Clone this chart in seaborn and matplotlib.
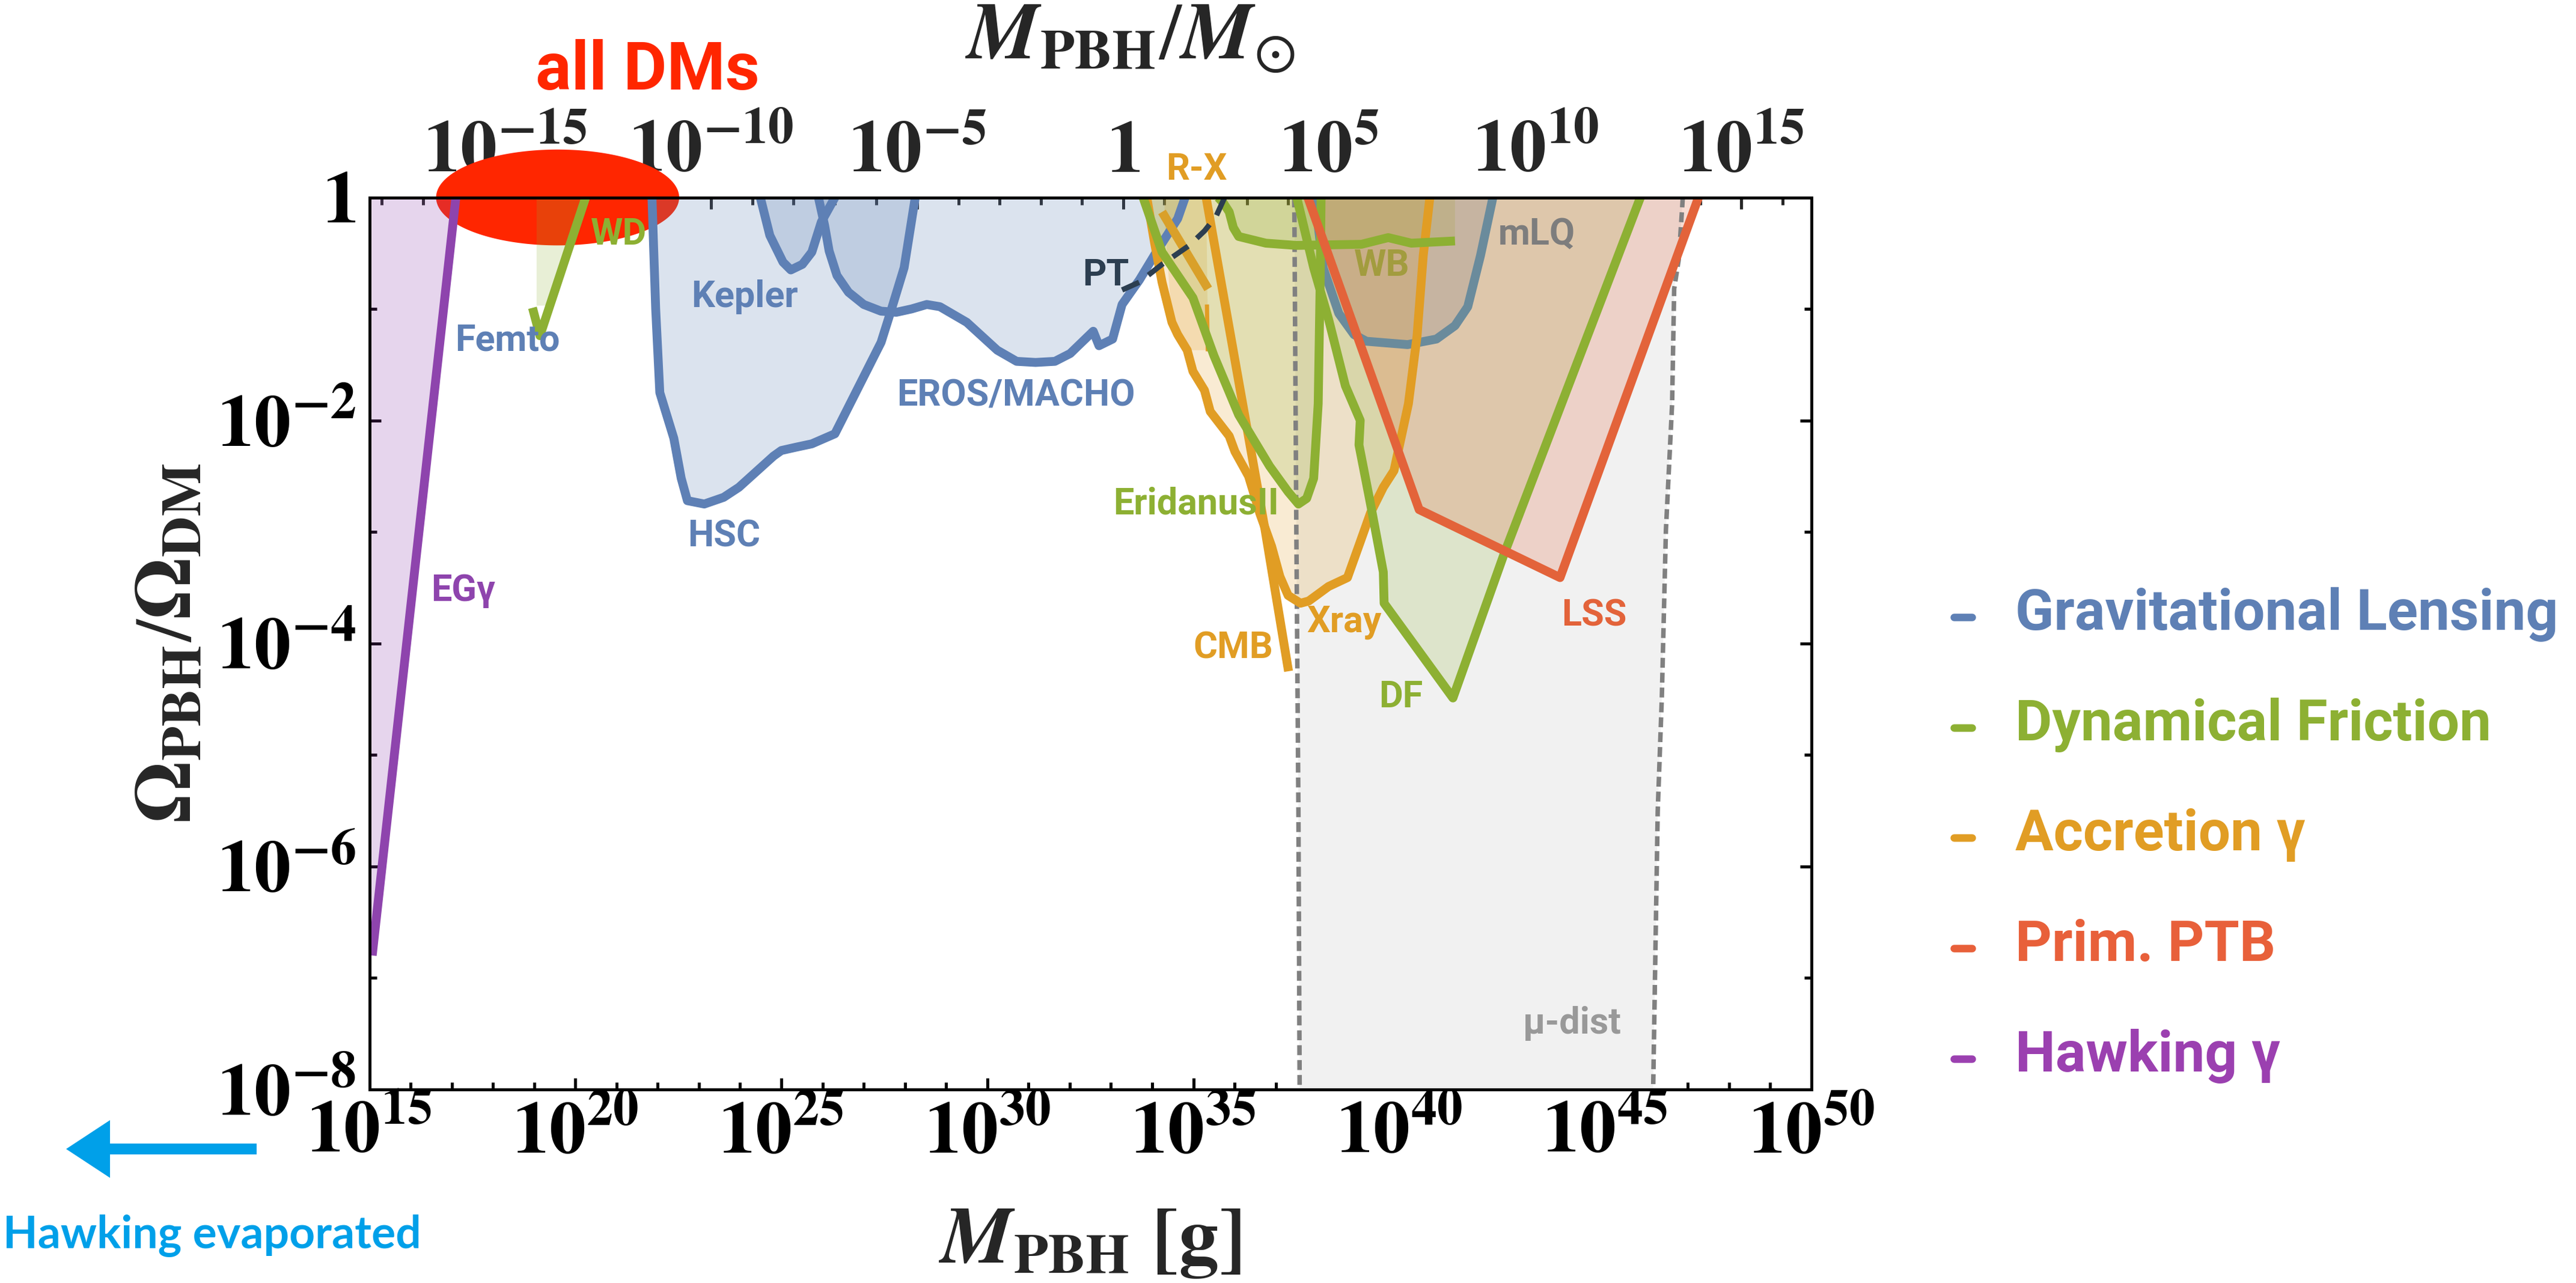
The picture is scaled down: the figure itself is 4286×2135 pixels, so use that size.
import numpy as np
import matplotlib
matplotlib.use("Agg")
import matplotlib.pyplot as plt
import seaborn as sns
from matplotlib.ticker import FixedLocator, FixedFormatter, NullFormatter
from matplotlib.lines import Line2D
from matplotlib.patches import FancyArrow

# ---------------------------------------------------------------------------
# Constraint curves on f_PBH = Omega_PBH / Omega_DM, stored as
# log10(M_PBH / g) and log10(f_PBH)
# ---------------------------------------------------------------------------
egg_logm = [15.07, 17.10]                      # extragalactic gamma rays
egg_logf = [-6.80, 0.00]

wd_logm = [20.25, 19.14, 18.96]                # white dwarfs
wd_logf = [0.00, -1.24, -0.99]
wd_fill_logm = [19.06, 20.25, 19.38, 19.06]
wd_fill_logf = [0.00, 0.00, -0.97, -0.97]

hsc_logm = [21.86, 21.95, 22.05, 22.39, 22.57, 22.72, 23.13, 23.60, 23.97, 24.81,
            25.00, 25.36, 25.74, 26.30, 26.86, 27.42, 27.65, 27.98, 28.25]
hsc_logf = [0.00, -1.00, -1.75, -2.16, -2.52, -2.72, -2.75, -2.69, -2.60, -2.32,
            -2.27, -2.24, -2.21, -2.12, -1.71, -1.30, -1.03, -0.63, 0.00]

kepler_logm = [24.49, 24.72, 25.04, 25.23, 25.51, 25.74, 25.97, 26.30]
kepler_logf = [0.00, -0.34, -0.58, -0.65, -0.60, -0.49, -0.22, 0.00]

eros_logm = [25.90, 26.05, 26.16, 26.35, 26.63, 27.00, 27.42, 27.79, 28.16, 28.53,
             28.85, 29.50, 30.24, 30.71, 31.17, 31.64, 32.01, 32.57, 32.71, 33.04,
             33.27, 33.69, 34.10, 34.43, 34.62, 34.80]
eros_logf = [0.00, -0.25, -0.48, -0.70, -0.85, -0.96, -1.02, -1.03, -1.00, -0.96,
             -0.98, -1.12, -1.37, -1.47, -1.48, -1.47, -1.40, -1.20, -1.33, -1.27,
             -0.96, -0.74, -0.49, -0.30, -0.19, 0.00]

pt_logm = [33.27, 33.69, 34.24, 34.90, 35.27, 35.55, 35.76]   # phase transition
pt_logf = [-0.83, -0.76, -0.60, -0.43, -0.30, -0.17, 0.00]

mlq_logm = [37.95, 38.15, 38.53, 38.90, 39.20, 40.20, 40.90, 41.35, 41.66, 41.97, 42.27]
mlq_logf = [0.00, -0.63, -1.04, -1.23, -1.29, -1.32, -1.27, -1.15, -0.98, -0.52, 0.00]

xray_logm = [33.87, 34.06, 34.24, 34.48, 34.62, 34.85, 34.99, 35.27, 35.41, 35.87,
             36.01, 36.34, 36.61, 36.90, 37.10, 37.30, 37.60, 37.80, 38.28, 38.74,
             39.05, 39.30, 39.61, 39.87, 40.22, 40.43, 40.58, 40.74]
xray_logf = [0.00, -0.41, -0.76, -1.12, -1.23, -1.37, -1.56, -1.73, -1.92, -2.14,
             -2.28, -2.50, -2.83, -3.13, -3.40, -3.57, -3.64, -3.62, -3.49, -3.41,
             -3.09, -2.83, -2.60, -2.45, -1.85, -1.24, -0.52, 0.00]

cmb_logm = [35.31, 36.23, 36.74, 37.31]
cmb_logf = [0.00, -1.92, -2.98, -4.25]

rx_logm = [34.24, 35.36]
rx_logf = [-0.13, -0.82]
rx_fill_logm = [34.30, 35.31, 35.36, 34.85, 34.48, 34.30]
rx_fill_logf = [0.00, 0.00, -1.37, -1.37, -1.12, -0.20]
rx_edge_logm = [35.33, 35.35]
rx_edge_logf = [-0.96, -1.38]

eri_logm = [33.78, 34.24, 34.99, 35.50, 36.10, 36.85, 37.30, 37.55, 37.75, 37.92,
            38.03, 38.08, 38.10]
eri_logf = [0.00, -0.49, -0.90, -1.42, -1.95, -2.41, -2.64, -2.75, -2.70, -2.52,
            -1.85, -0.71, 0.00]

wb_logm = [35.60, 35.73, 35.87, 35.97, 36.10, 36.76, 37.50, 39.08, 39.73, 40.29, 41.35]
wb_logf = [0.00, -0.05, -0.13, -0.27, -0.35, -0.41, -0.43, -0.42, -0.36, -0.41, -0.39]

df_logm = [37.51, 37.92, 38.28, 38.69, 39.05, 39.02, 39.30, 39.61, 39.63, 41.30, 42.53, 45.85]
df_logf = [0.00, -0.63, -1.09, -1.69, -2.00, -2.22, -2.75, -3.36, -3.64, -4.49, -3.21, 0.00]

lss_logm = [37.78, 40.48, 43.90, 47.26]
lss_logf = [0.00, -2.80, -3.41, 0.00]

mu_left_logm = [37.45, 37.50, 37.55, 37.58]
mu_left_logf = [0.00, -3.00, -5.50, -8.00]
mu_right_logm = [46.88, 46.78, 46.67, 46.62, 46.47, 46.37, 46.27, 46.16]
mu_right_logf = [0.00, -0.56, -0.82, -1.85, -2.98, -4.49, -5.51, -8.00]

# "all DMs" window: centre and half-axes in decades
alldm_center = (19.57, 0.0)
alldm_halfwidth = (2.95, 0.43)

# axis ticks
x_major_exp = list(range(15, 51, 5))
y_major_exp = [0, -2, -4, -6, -8]
msun_major_exp = list(range(-15, 16, 5))
MSUN_G = 1.989e33

legend_names = ["Gravitational Lensing", "Dynamical Friction", "Accretion \u03b3",
                "Prim. PTB", "Hawking \u03b3"]

C_LENS = "#5e80b5"
C_DF = "#8db033"
C_ACC = "#e19d24"
C_PTB = "#e3633a"
C_HAWK = "#8e44ad"
C_PT = "#2c3e50"
C_MU = "#808080"
C_DM = "#ff2600"
C_EVAP = "#00a0e9"
legend_colors = [C_LENS, C_DF, C_ACC, "#e8603a", "#9b40b0"]

# ---------------------------------------------------------------------------
sns.set_style("ticks")
plt.rcParams["mathtext.fontset"] = "stix"
plt.rcParams["font.family"] = ["STIXGeneral", "DejaVu Serif"]
plt.rcParams["lines.solid_capstyle"] = "butt"
plt.rcParams["lines.solid_joinstyle"] = "round"
LABEL_FONT = ["Roboto", "DejaVu Sans"]
LW = 5.3

W, H, DPI = 4286, 2135, 200
fig = plt.figure(figsize=(W / DPI, H / DPI), dpi=DPI)
ax = fig.add_axes([614.5 / W, 1 - 1812.6 / H, (3013.8 - 614.5) / W, (1812.6 - 328.6) / H])
ax.set_xscale("log")
ax.set_yscale("log")


def P(v):
    return 10.0 ** np.asarray(v, dtype=float)


def region(logm, logf, color, alpha=0.22, z=1.5):
    ax.fill(P(logm), P(logf), color=color, alpha=alpha, lw=0, zorder=z)


def curve(logm, logf, color, lw=LW, z=3, **kw):
    sns.lineplot(x=P(logm), y=P(logf), sort=False, estimator=None, color=color,
                 lw=lw, ax=ax, zorder=z, legend=False, **kw)


def label(logm, logf, text, color, size=22, **kw):
    ax.text(P(logm), P(logf), text, color=color, fontsize=size, fontweight="bold",
            family=LABEL_FONT, ha="center", va="center", zorder=6, **kw)


# mu-distortion band
mu_poly_m = mu_left_logm + mu_right_logm[::-1]
mu_poly_f = mu_left_logf + mu_right_logf[::-1]
ax.fill(P(mu_poly_m), P(mu_poly_f), color="#f1f1f1", lw=0, zorder=1.0)
for lm, lf in [(mu_left_logm, mu_left_logf), (mu_right_logm, mu_right_logf)]:
    ax.plot(P(lm), P(lf), color=C_MU, lw=2.7, ls=(0, (2.2, 1.1)), zorder=2.6)

# "all DMs" ellipse (sits partly above the frame)
t = np.linspace(0, 2 * np.pi, 200)
ell_m = alldm_center[0] + alldm_halfwidth[0] * np.cos(t)
ell_f = alldm_center[1] + alldm_halfwidth[1] * np.sin(t)
ax.fill(P(ell_m), P(ell_f), color=C_DM, lw=0, zorder=1.2, clip_on=False)

# shaded regions
region(egg_logm + [15.0, 15.0], egg_logf + [0.0, -6.80], C_HAWK)
region(wd_fill_logm, wd_fill_logf, C_DF, alpha=0.2)
region(hsc_logm, hsc_logf, C_LENS)
region(kepler_logm, kepler_logf, C_LENS)
region(eros_logm, eros_logf, C_LENS)
region(mlq_logm, mlq_logf, C_LENS, alpha=0.25)
region(xray_logm, xray_logf, C_ACC, alpha=0.2)
region(rx_fill_logm, rx_fill_logf, C_ACC, alpha=0.2)
region(eri_logm, eri_logf, C_DF, alpha=0.2)
region(wb_logm + [41.35], wb_logf + [0.0], C_DF, alpha=0.2)
region(df_logm, df_logf, C_DF, alpha=0.2)
region(lss_logm, lss_logf, C_PTB, alpha=0.22)

# boundary lines
curve(egg_logm, egg_logf, C_HAWK)
curve(wd_logm, wd_logf, C_DF)
curve(hsc_logm, hsc_logf, C_LENS)
curve(kepler_logm, kepler_logf, C_LENS)
curve(eros_logm, eros_logf, C_LENS)
curve(mlq_logm, mlq_logf, "#6a8b9c")
curve(xray_logm, xray_logf, C_ACC)
curve(cmb_logm, cmb_logf, C_ACC)
curve(rx_logm, rx_logf, "#d9a02a")
curve(rx_edge_logm, rx_edge_logf, C_ACC, lw=2.5)
curve(eri_logm, eri_logf, C_DF)
curve(wb_logm, wb_logf, C_DF)
curve(df_logm, df_logf, C_DF)
curve(lss_logm, lss_logf, C_PTB)
ax.plot(P(pt_logm), P(pt_logf), color=C_PT, lw=3.2, ls=(0, (3.5, 2.2)), zorder=3.5)

# region labels
label(18.36, -1.28, "Femto", C_LENS)
label(21.05, -0.33, "WD", C_DF)
label(24.11, -0.89, "Kepler", C_LENS)
label(17.28, -3.53, "EG\u03b3", C_HAWK)
label(23.61, -3.04, "HSC", C_LENS)
label(30.70, -1.78, "EROS/MACHO", C_LENS)
label(32.88, -0.70, "PT", C_PT)
label(35.08, 0.25, "R-X", C_ACC)
label(39.57, -0.61, "WB", "#a29c3e")
label(43.34, -0.33, "mLQ", "#7d7d7d")
label(35.07, -2.75, "EridanusII", C_DF)
label(35.97, -4.04, "CMB", C_ACC)
label(38.66, -3.81, "Xray", C_ACC)
label(40.03, -4.48, "DF", C_DF)
label(44.72, -3.75, "LSS", C_PTB)
label(44.20, -7.41, "\u03bc-dist", "#999999")
label(21.75, 1.13, "all DMs", C_DM, size=40)

# axes, ticks and tick labels
ax.set_xlim(1e15, 1e50)
ax.set_ylim(1e-8, 1)
ax.xaxis.set_major_locator(FixedLocator(P(x_major_exp)))
ax.xaxis.set_major_formatter(FixedFormatter([r"$\mathbf{10^{%d}}$" % e for e in x_major_exp]))
ax.xaxis.set_minor_locator(FixedLocator(P([e for e in range(15, 51) if e % 5])))
ax.xaxis.set_minor_formatter(NullFormatter())
ax.yaxis.set_major_locator(FixedLocator(P(y_major_exp)))
ax.yaxis.set_major_formatter(FixedFormatter(
    [r"$\mathbf{1}$" if e == 0 else r"$\mathbf{10^{%d}}$" % e for e in y_major_exp]))
ax.yaxis.set_minor_locator(FixedLocator(P([e for e in range(-8, 1) if e % 2])))
ax.yaxis.set_minor_formatter(NullFormatter())
ax.tick_params(which="both", direction="in", top=False, right=True, width=1.8,
               labelsize=44, colors="black")
ax.tick_params(which="major", length=7)
ax.tick_params(which="minor", length=4.2)
ax.tick_params(axis="x", which="major", pad=7)
ax.tick_params(axis="y", which="major", pad=8)
for s in ax.spines.values():
    s.set_linewidth(1.8)
    s.set_color("black")
    s.set_zorder(5)

secax = ax.secondary_xaxis("top", functions=(lambda m: m / MSUN_G, lambda m: m * MSUN_G))
secax.set_xscale("log")
secax.xaxis.set_major_locator(FixedLocator(P(msun_major_exp)))
secax.xaxis.set_major_formatter(FixedFormatter(
    [r"$\mathbf{1}$" if e == 0 else r"$\mathbf{10^{%d}}$" % e for e in msun_major_exp]))
secax.xaxis.set_minor_locator(FixedLocator(P([e for e in range(-18, 17) if e % 5])))
secax.xaxis.set_minor_formatter(NullFormatter())
secax.tick_params(which="both", direction="in", width=1.8, labelsize=44)
secax.tick_params(which="major", length=7, pad=6)
secax.tick_params(which="minor", length=4.2)
secax.spines["top"].set_linewidth(1.8)

# axis titles
fig.text(1814 / W, 1 - 2069 / H, r"$\mathbfit{M}_{\mathbf{PBH}}\ \mathbf{[g]}$",
         fontsize=48, ha="center", va="center")
fig.text(287 / W, 1 - 1070 / H, r"$\mathbf{\Omega}_{\mathbf{PBH}}/\mathbf{\Omega}_{\mathbf{DM}}$",
         fontsize=48, ha="center", va="center", rotation=90)
fig.text(1880 / W, 1 - 66 / H, r"$\mathbfit{M}_{\mathbf{PBH}}/\mathbfit{M}_{\odot}$",
         fontsize=48, ha="center", va="center")

# legend to the right of the frame
legend_baselines = [1047.8, 1232.0, 1414.7, 1599.0, 1783.0]
for name, col, yb in zip(legend_names, legend_colors, legend_baselines):
    ydash = yb - 21
    fig.add_artist(Line2D([3251 / W, 3281 / W], [1 - ydash / H, 1 - ydash / H],
                          color=col, lw=4.5, solid_capstyle="round",
                          transform=fig.transFigure))
    fig.text(3353 / W, 1 - yb / H, name, color=col, fontsize=34.0, fontweight="bold",
             family=LABEL_FONT, ha="left", va="baseline")

# Hawking evaporation arrow
fig.add_artist(FancyArrow(427 / W, 1 - 1912 / H, -(427 - 110) / W, 0,
                          width=18 / H, head_width=96 / H, head_length=73 / W,
                          length_includes_head=True, color=C_EVAP, lw=0,
                          transform=fig.transFigure))
fig.text(353 / W, 1 - 2057 / H, "Hawking evaporated", color=C_EVAP, fontsize=27,
         fontweight="bold", family=["Lato", "DejaVu Sans"], ha="center", va="center")

fig.savefig("out.png", dpi=DPI)
